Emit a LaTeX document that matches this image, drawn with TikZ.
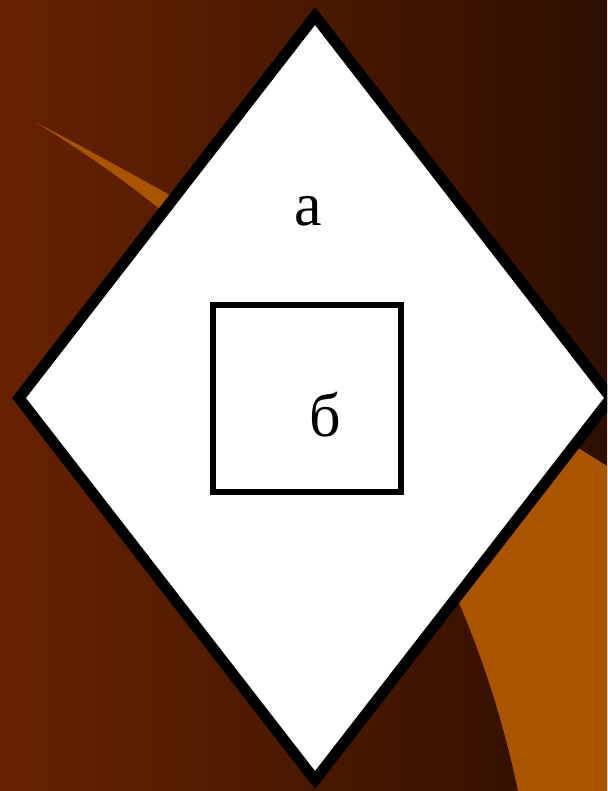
\documentclass[tikz,border=0pt]{standalone}
\usepackage{fontspec}
\setmainfont{Liberation Serif}
\definecolor{bgleft}{HTML}{672200}
\definecolor{bgright}{HTML}{2E0F00}
\definecolor{swoosh}{HTML}{A95500}
\begin{document}
\begin{tikzpicture}[x=1pt,y=-1pt,
  frame/.style={draw=black,line width=11pt,line join=miter,fill=white},
  inner box/.style={draw=black,line width=6.5pt,fill=white,line join=miter},
  letter/.style={font=\fontsize{62}{66}\selectfont,inner sep=0pt}]
\useasboundingbox (0,0) rectangle (607,791);
\clip (0,0) rectangle (607,791);
\shade[left color=bgleft,right color=bgright] (0,0) rectangle (607,791);
\fill[swoosh] (35,122) .. controls (300,260) and (500,400) .. (607,466)
  -- (607,791) -- (518,791) .. controls (470,560) and (330,300) .. (35,122) -- cycle;
\coordinate (T) at (315,16);
\coordinate (R) at (611,398);
\coordinate (B) at (315,780);
\coordinate (L) at (19,398);
\draw[frame] (T) -- (R) -- (B) -- (L) -- cycle;
\draw[inner box] (213,305) rectangle (401,492);
\node[letter] (a) at (308,211) {а};
\node[letter] (b) at (325,415) {б};
\end{tikzpicture}
\end{document}
